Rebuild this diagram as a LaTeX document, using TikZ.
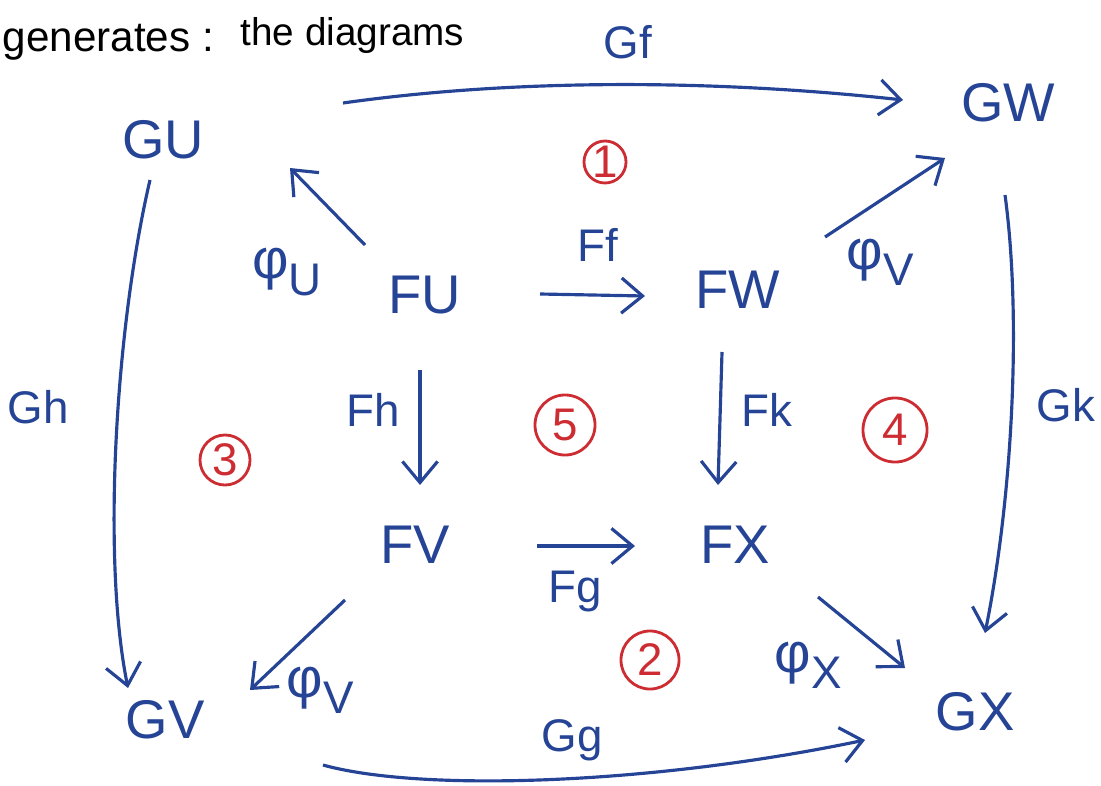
\documentclass[tikz,border=0pt]{standalone}
\usepackage{fontspec}
\setmainfont{Liberation Sans}
\usetikzlibrary{arrows.meta}
\definecolor{ink}{RGB}{38,68,150}
\definecolor{redink}{RGB}{205,45,50}
\newcommand\phis[1]{φ\raisebox{-0.55ex}{\fontsize{13}{13}\selectfont #1}}
\tikzset{
  obj/.style={text=ink,font=\fontsize{15.5}{18}\selectfont,inner sep=0pt},
  lbl/.style={text=ink,font=\fontsize{13}{15}\selectfont,inner sep=0pt},
  phil/.style={text=ink,font=\fontsize{16}{18}\selectfont,inner sep=0pt},
  cnum/.style={circle,draw=redink,text=redink,line width=0.8pt,font=\fontsize{13}{14}\selectfont,inner sep=0pt},
  arr/.style={draw=ink,line width=0.9pt,-{Straight Barb[length=6pt,width=10pt]}},
}
\begin{document}
\begin{tikzpicture}[x=0.01cm,y=-0.01cm]
\useasboundingbox (0,0) rectangle (1101,785);
% title text
\node[anchor=west,inner sep=0pt,font=\fontsize{12}{14}\selectfont] (gen) at (2,42) {generates :};
\node[anchor=west,inner sep=0pt,font=\fontsize{11}{13}\selectfont] (diag) at (240,36) {the diagrams};
% objects
\node[obj] (gu) at (163,140) {GU};
\node[obj] (gw) at (1008,103) {GW};
\node[obj] (fu) at (425,295) {FU};
\node[obj] (fw) at (738,290) {FW};
\node[obj] (fv) at (415,545) {FV};
\node[obj] (fx) at (735,545) {FX};
\node[obj] (gv) at (165,720) {GV};
\node[obj] (gx) at (975,712) {GX};
% labels
\node[lbl] (lgf) at (628,42) {Gf};
\node[phil] (lphu) at (287,272) {\phis{U}};
\node[lbl] (lff) at (598,245) {Ff};
\node[phil] (lphv1) at (880,262) {\phis{V}};
\node[lbl] (lgh) at (38,407) {Gh};
\node[lbl] (lfh) at (373,410) {Fh};
\node[lbl] (lfk) at (767,410) {Fk};
\node[lbl] (lgk) at (1066,405) {Gk};
\node[lbl] (lfg) at (575,592) {Fg};
\node[phil] (lphv2) at (320,690) {\phis{V}};
\node[phil] (lphx) at (808,665) {\phis{X}};
\node[lbl] (lgg) at (572,740) {Gg};
% circled numbers
\node[cnum,minimum size=0.42cm] (c1) at (605,162) {1};
\node[cnum,minimum size=0.6cm] (c5) at (565,425) {5};
\node[cnum,minimum size=0.64cm] (c4) at (895,430) {4};
\node[cnum,minimum size=0.5cm] (c3) at (225,460) {3};
\node[cnum,minimum size=0.58cm] (c2) at (650,660) {2};
% arrows
\draw[arr] ([shift={(180,-37)}]gu.center) .. controls (520,78) and (720,80) .. ([shift={(-105,-3)}]gw.center);
\draw[arr] ([shift={(-60,-50)}]fu.center) -- ([shift={(127,28)}]gu.center);
\draw[arr] ([shift={(115,-1)}]fu.center) -- ([shift={(-93,6)}]fw.center);
\draw[arr] ([shift={(87,-53)}]fw.center) -- ([shift={(-63,55)}]gw.center);
\draw[arr] ([shift={(-13,40)}]gu.center) .. controls (115,330) and (102,560) .. ([shift={(-37,-32)}]gv.center);
\draw[arr] ([shift={(-5,75)}]fu.center) -- ([shift={(5,-60)}]fv.center);
\draw[arr] ([shift={(-16,62)}]fw.center) -- ([shift={(-17,-60)}]fx.center);
\draw[arr] ([shift={(-3,92)}]gw.center) .. controls (1022,320) and (1012,500) .. ([shift={(10,-79)}]gx.center);
\draw[arr] ([shift={(122,1)}]fv.center) -- ([shift={(-100,1)}]fx.center);
\draw[arr] ([shift={(-70,55)}]fv.center) -- ([shift={(85,-30)}]gv.center);
\draw[arr] ([shift={(83,52)}]fx.center) -- ([shift={(-70,-44)}]gx.center);
\draw[arr] ([shift={(158,45)}]gv.center) .. controls (420,792) and (650,785) .. ([shift={(-110,28)}]gx.center);
\end{tikzpicture}
\end{document}
